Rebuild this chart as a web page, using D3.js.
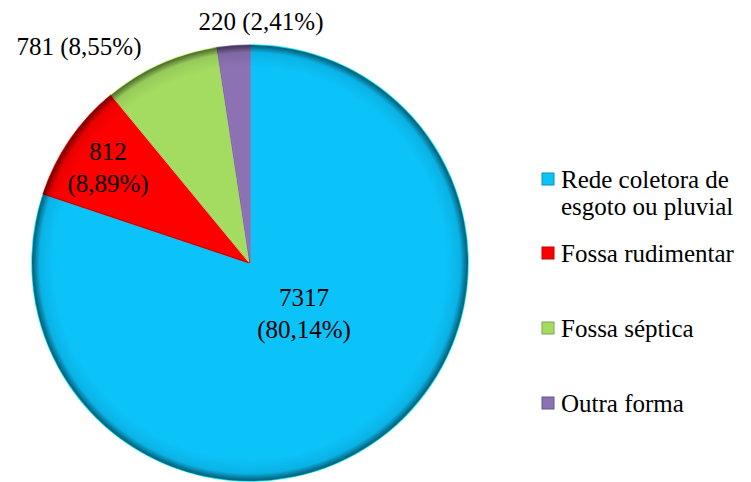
<!DOCTYPE html>
<html>
<head>
<meta charset="utf-8">
<script src="https://cdn.jsdelivr.net/npm/d3@7"></script>
<style>
  body { margin: 0; background: #fff; }
  text { font-family: "Liberation Serif", serif; fill: #000; }
</style>
</head>
<body>
<svg id="chart"></svg>
<script>
var width = 751;
var height = 482;

var categories = ["Rede coletora de esgoto ou pluvial", "Fossa rudimentar", "Fossa séptica", "Outra forma"];
var legendLines = [["Rede coletora de", "esgoto ou pluvial"], ["Fossa rudimentar"], ["Fossa séptica"], ["Outra forma"]];
var values = [7317, 812, 781, 220];
var percents = ["80,14%", "8,89%", "8,55%", "2,41%"];
var colors = ["#0bc2f9", "#ff0000", "#a4dc61", "#8c72b2"];

var svg = d3.select("#chart").attr("width", width).attr("height", height);

var cx = 250, cy = 263, radius = 218;

var defs = svg.append("defs");
var shade = defs.append("radialGradient").attr("id", "rimShade")
  .attr("cx", "50%").attr("cy", "50%").attr("r", "50%");
shade.append("stop").attr("offset", "0.9").attr("stop-color", "#000").attr("stop-opacity", 0);
shade.append("stop").attr("offset", "0.965").attr("stop-color", "#000").attr("stop-opacity", 0.08);
shade.append("stop").attr("offset", "1").attr("stop-color", "#000").attr("stop-opacity", 0.55);

var data = categories.map(function (c, i) {
  return { name: c, value: values[i], pct: percents[i], color: colors[i] };
});

var pie = d3.pie().value(function (d) { return d.value; }).sort(null);
var arcs = pie(data);
var arc = d3.arc().innerRadius(0).outerRadius(radius);

var g = svg.append("g").attr("transform", "translate(" + cx + "," + cy + ")");

g.selectAll("path.slice")
  .data(arcs)
  .enter()
  .append("path")
  .attr("class", "slice")
  .attr("d", arc)
  .attr("fill", function (d) { return d.data.color; })
  .attr("stroke", function (d) { return d3.color(d.data.color).brighter(0.5); })
  .attr("stroke-width", 1.5)
  .attr("stroke-linejoin", "round");

// dark rim like the bevelled look
g.append("circle").attr("r", radius).attr("fill", "url(#rimShade)");

// thin dark separators
g.selectAll("path.sep")
  .data(arcs)
  .enter()
  .append("path")
  .attr("class", "sep")
  .attr("d", function (d) {
    var a = d.startAngle;
    return "M0,0L" + radius * Math.sin(a) + "," + -radius * Math.cos(a);
  })
  .attr("stroke", "rgba(0,0,0,0.25)")
  .attr("stroke-width", 1);

// labels
var labelPos = [
  { x: 304, y: 306, two: true },
  { x: 108, y: 160, two: true },
  { x: 79, y: 55, two: false },
  { x: 261, y: 30, two: false }
];
var fs = 25;

arcs.forEach(function (d, i) {
  var p = labelPos[i];
  var t = svg.append("text").attr("text-anchor", "middle").style("font-size", fs + "px");
  if (p.two) {
    t.append("tspan").attr("x", p.x).attr("y", p.y).text(d.data.value);
    t.append("tspan").attr("x", p.x).attr("y", p.y + 32).text("(" + d.data.pct + ")");
  } else {
    t.attr("x", p.x).attr("y", p.y).text(d.data.value + " (" + d.data.pct + ")");
  }
});

// legend
var legendY = [188, 262, 337, 412];
var legend = svg.append("g");
legendLines.forEach(function (lines, i) {
  var y = legendY[i];
  legend.append("rect")
    .attr("x", 542).attr("y", y - 15)
    .attr("width", 12).attr("height", 12)
    .attr("fill", colors[i])
    .attr("stroke", d3.color(colors[i]).darker(0.8))
    .attr("stroke-width", 1);
  lines.forEach(function (l, j) {
    legend.append("text")
      .attr("x", 561).attr("y", y + j * 27)
      .style("font-size", fs + "px")
      .text(l);
  });
});
</script>
</body>
</html>
